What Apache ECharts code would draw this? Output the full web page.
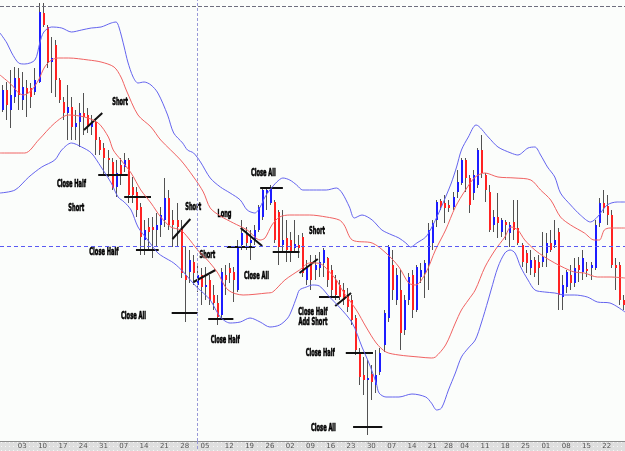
<!DOCTYPE html>
<html>
<head>
<meta charset="utf-8">
<script src="https://cdn.jsdelivr.net/npm/echarts@6.0.0/dist/echarts.min.js"></script>
<style>
html, body { margin: 0; padding: 0; background: #fbfdfb; }
#main { width: 625px; height: 451px; }
</style>
</head>
<body>
<div id="main"></div>
<script>
// monday of every week on the chart (first week is not labelled)
var weeks = ['2009-07-27', '2009-08-03', '2009-08-10', '2009-08-17', '2009-08-24', '2009-08-31',
	'2009-09-07', '2009-09-14', '2009-09-21', '2009-09-28', '2009-10-05', '2009-10-12', '2009-10-19',
	'2009-10-26', '2009-11-02', '2009-11-09', '2009-11-16', '2009-11-23', '2009-11-30', '2009-12-07',
	'2009-12-14', '2009-12-21', '2009-12-28', '2010-01-04', '2010-01-11', '2010-01-18', '2010-01-25',
	'2010-02-01', '2010-02-08', '2010-02-15', '2010-02-22'];
var closedDays = ['2009-12-25', '2010-01-01'];
var extraDays = ['2009-10-11'];

// daily bars: [open, close, low, high]
var candles = [
	[331, 351, 329, 356], [351, 336, 321, 359], [331, 346, 313, 371], [344, 363, 338, 374], [363, 346, 331, 373],
	[341, 354, 331, 369], [353, 348, 324, 361], [353, 344, 333, 358], [349, 361, 346, 373], [359, 429, 358, 438],
	[428, 416, 414, 438], [414, 379, 373, 416], [379, 383, 348, 404], [396, 361, 344, 401], [361, 341, 338, 363],
	[339, 328, 321, 344], [328, 334, 301, 356], [334, 314, 301, 344], [314, 318, 301, 331], [319, 328, 294, 338],
	[328, 324, 306, 348], [326, 314, 308, 333], [314, 319, 306, 326], [319, 301, 286, 323], [301, 291, 286, 304],
	[293, 283, 266, 298], [283, 281, 264, 291], [279, 253, 251, 283], [254, 268, 244, 281], [276, 266, 256, 283],
	[274, 281, 269, 288], [281, 246, 238, 283], [254, 246, 238, 264], [249, 231, 224, 254], [234, 204, 186, 238],
	[201, 211, 186, 221], [214, 209, 191, 223], [214, 211, 183, 224], [211, 216, 194, 228], [216, 226, 204, 234],
	[221, 243, 214, 263], [243, 216, 211, 251], [221, 216, 194, 231], [221, 214, 194, 238], [213, 168, 163, 221],
	[166, 161, 119, 194], [169, 181, 158, 191], [179, 168, 156, 186], [156, 166, 149, 176], [166, 154, 136, 173],
	[154, 156, 141, 174], [161, 141, 136, 166], [146, 138, 131, 156], [138, 124, 116, 146], [126, 169, 123, 173],
	[166, 161, 146, 176], [173, 168, 158, 178], [169, 161, 139, 174], [151, 194, 149, 201], [196, 208, 191, 221],
	[206, 198, 191, 214], [198, 201, 181, 211], [201, 211, 196, 216], [211, 234, 209, 236], [224, 251, 221, 254],
	[248, 251, 231, 254], [238, 254, 236, 256], [239, 201, 198, 241], [229, 194, 176, 231], [196, 201, 189, 231],
	[203, 191, 179, 221], [201, 188, 179, 209], [193, 197, 189, 221], [196, 193, 183, 206], [204, 168, 164, 208],
	[161, 173, 156, 181], [179, 161, 151, 186], [171, 176, 161, 186], [173, 179, 164, 189], [178, 191, 164, 193],
	[183, 161, 154, 184], [171, 151, 144, 176], [161, 146, 141, 166], [156, 144, 141, 161], [151, 141, 136, 158],
	[146, 134, 129, 153], [141, 121, 116, 146], [123, 91, 86, 126], [89, 64, 56, 93], [66, 61, 46, 84],
	[61, 63, 6, 81], [67, 59, 41, 76], [56, 66, 48, 91], [69, 88, 66, 93], [96, 128, 89, 131],
	[123, 194, 119, 196], [176, 151, 141, 191], [141, 166, 136, 173], [151, 108, 91, 171],
	[111, 141, 106, 146], [141, 164, 136, 168], [166, 131, 123, 171], [131, 174, 129, 176], [164, 171, 158, 178],
	[168, 178, 143, 181], [176, 211, 151, 218], [198, 218, 191, 221], [221, 239, 214, 241], [240, 234, 231, 242],
	[238, 233, 218, 246], [236, 233, 229, 241], [234, 244, 231, 249], [249, 259, 243, 271], [258, 281, 256, 283],
	[281, 263, 249, 283], [263, 236, 228, 266], [248, 266, 241, 271], [256, 291, 253, 293], [291, 268, 263, 306],
	[266, 251, 239, 268], [249, 211, 209, 256], [216, 224, 209, 231], [224, 218, 203, 248], [209, 221, 204, 223],
	[219, 216, 201, 221], [208, 216, 194, 219], [219, 211, 201, 241], [213, 198, 196, 241], [196, 179, 174, 198],
	[188, 178, 168, 191], [173, 181, 166, 191], [181, 168, 164, 184], [179, 173, 156, 186], [179, 184, 174, 209],
	[188, 198, 174, 208], [198, 191, 189, 211], [196, 201, 193, 221], [209, 146, 131, 213], [144, 156, 131, 166],
	[154, 169, 148, 171], [166, 158, 151, 176], [158, 173, 154, 183], [176, 171, 159, 184], [169, 183, 161, 191],
	[172, 170, 164, 179], [173, 176, 161, 179], [173, 216, 171, 221], [218, 238, 214, 243], [238, 233, 228, 251],
	[235, 226, 216, 246], [226, 176, 173, 231], [176, 173, 151, 183], [176, 141, 136, 179], [141, 136, 131, 146]
];

// bands: [bar position, level]
var blueUpper = [[-0.5, 408], [1.2, 398], [2.4, 388], [4.1, 378], [5.6, 377], [8.1, 381], [9.3, 398], [10.3, 409],
	[12.2, 414], [14.7, 413], [17.1, 409], [19.6, 411], [22.0, 413], [24.4, 414], [26.9, 418], [28.1, 419],
	[28.8, 414], [30.1, 394], [31.0, 379], [32.3, 364], [33.5, 358], [35.0, 359], [36.7, 356], [38.4, 348],
	[40.8, 326], [42.3, 308], [44.5, 298], [45.7, 291], [47.2, 288], [48.9, 279], [51.3, 263], [53.8, 254],
	[56.2, 248], [58.7, 241], [60.4, 231], [62.3, 228], [63.6, 234], [64.8, 244], [66.0, 251], [67.7, 259],
	[69.2, 263], [70.9, 261], [72.6, 256], [74.1, 251], [77.5, 251], [79.9, 251], [82.4, 253], [83.8, 248],
	[85.6, 234], [86.8, 223], [88.7, 226], [91.2, 221], [93.6, 211], [96.1, 206], [97.8, 203], [99.5, 198],
	[100.7, 194], [102.2, 198], [104.4, 204], [105.8, 213], [107.6, 228], [109.3, 244], [110.7, 258], [112.0, 274],
	[113.2, 291], [114.9, 304], [116.8, 316], [119.8, 304], [122.2, 294], [125.4, 288], [127.1, 286], [129.6, 293],
	[131.3, 294], [132.7, 286], [134.4, 274], [136.2, 264], [137.6, 248], [140.1, 236], [142.5, 226], [145.0, 219],
	[146.7, 224], [149.1, 236], [151.6, 239], [153.5, 239]];
var redUpper = [[-0.5, 366], [2.4, 356], [4.1, 348], [5.4, 346], [7.3, 351], [9.0, 361], [10.5, 374], [12.2, 381],
	[13.9, 383], [16.4, 383], [21.3, 381], [24.4, 379], [27.6, 374], [29.3, 364], [30.6, 351], [33.5, 326],
	[36.7, 314], [39.1, 301], [44.0, 281], [47.2, 264], [49.6, 249], [51.3, 233], [53.8, 225], [57.0, 218],
	[60.4, 211], [63.6, 201], [64.8, 203], [66.5, 216], [68.4, 224], [70.9, 226], [75.8, 226], [79.9, 224],
	[83.1, 221], [84.3, 216], [86.3, 201], [91.2, 198], [94.6, 188], [97.8, 174], [100.2, 158], [101.9, 156],
	[104.4, 168], [106.8, 191], [109.3, 211], [111.7, 234], [114.2, 251], [116.6, 264], [119.0, 268], [122.2, 264],
	[126.4, 263], [130.3, 261], [132.7, 251], [135.2, 241], [137.6, 224], [140.1, 216], [143.5, 208], [145.9, 201],
	[147.2, 201], [148.4, 211], [149.8, 213], [153.5, 213]];
var redLower = [[-0.5, 288], [5.6, 288], [9.0, 301], [13.0, 318], [16.4, 326], [20.3, 324], [23.7, 318], [26.2, 304],
	[27.4, 291], [29.3, 281], [31.8, 268], [34.2, 251], [36.7, 238], [39.1, 224], [41.6, 214], [44.0, 211],
	[45.7, 204], [48.2, 191], [50.6, 181], [53.0, 169], [55.7, 151], [59.4, 146], [65.3, 148], [66.7, 149],
	[69.7, 161], [73.3, 171], [75.8, 178], [77.5, 178], [79.0, 176], [80.7, 169], [82.4, 161], [83.8, 151],
	[87.3, 131], [89.7, 114], [92.2, 98], [94.6, 89], [97.8, 86], [102.7, 84], [105.8, 83], [106.8, 84],
	[109.3, 96], [111.7, 118], [113.2, 131], [114.9, 141], [116.6, 151], [119.0, 174], [121.5, 191], [123.9, 204],
	[125.4, 214], [127.1, 211], [128.8, 201], [131.3, 191], [133.7, 184], [136.2, 178], [138.6, 173], [141.0, 169],
	[143.5, 168], [146.7, 164], [149.8, 164], [153.5, 163]];
var blueLower = [[-0.5, 248], [3.2, 251], [6.6, 264], [9.8, 274], [13.0, 281], [14.7, 291], [17.1, 298], [19.6, 294],
	[22.0, 288], [24.4, 274], [26.9, 258], [28.6, 244], [30.1, 239], [31.8, 231], [33.5, 214], [35.9, 201],
	[38.4, 188], [39.8, 184], [42.3, 178], [44.7, 169], [46.4, 161], [48.2, 153], [49.6, 148], [51.3, 141],
	[53.8, 124], [56.2, 118], [58.7, 119], [61.1, 123], [63.6, 119], [66.0, 114], [68.4, 116], [70.4, 123],
	[71.4, 131], [72.6, 144], [73.3, 151], [75.0, 154], [76.5, 156], [78.2, 155], [80.7, 144], [83.1, 134],
	[86.3, 118], [88.7, 94], [90.4, 78], [92.2, 58], [92.9, 48], [94.6, 44], [97.8, 44], [101.0, 47],
	[104.4, 44], [105.8, 38], [107.1, 31], [108.3, 33], [110.0, 51], [111.7, 68], [113.2, 84], [114.9, 93],
	[116.6, 101], [118.1, 118], [119.8, 141], [120.5, 151], [122.2, 174], [123.9, 188], [125.2, 191], [126.4, 188],
	[127.8, 174], [129.6, 161], [131.3, 151], [133.7, 149], [136.2, 148], [138.6, 146], [141.0, 146], [144.2, 144],
	[146.7, 139], [149.8, 138], [153.5, 129]];

// trade notes: strokes [x1, y1, x2, y2] and labels
var noteLines = [[20.2, 311, 24.7, 328], [23.7, 266, 31.0, 266], [30.1, 244, 36.7, 244], [33.0, 191, 38.6, 191],
	[42.0, 202, 46.4, 222], [47.2, 159, 52.6, 171], [41.8, 128, 48.2, 128], [50.8, 122, 57.0, 122],
	[58.8, 213, 64.1, 195], [55.4, 194, 62.3, 194], [63.6, 253, 69.2, 253], [73.3, 168, 77.8, 182],
	[66.7, 189, 73.3, 189], [78.1, 144, 83.1, 144], [82.1, 135, 86.0, 148], [84.7, 88, 91.4, 88],
	[86.5, 14, 93.7, 14]];
var noteText = ['Short', 'Close Half', 'Short', 'Close Half', 'Short', 'Short', 'Close All', 'Close Half',
	'Close All', 'Long', 'Close All', 'Short', 'Close Half', 'Add Short', 'Close Half', 'Close All'];
var noteAt = [[29.1, 339], [17.1, 257], [18.3, 233], [25.1, 189], [47.1, 234], [50.6, 186], [32.4, 125], [55.0, 101],
	[62.7, 165], [54.8, 227], [64.4, 268], [77.6, 210], [76.6, 129], [76.6, 119], [78.4, 88], [79.2, 13]];

// crosshair: level and bar, plus the dashed line at the top
var crossLevel = 195;
var crossBar = 48;
var topLevel = 435;

var categories = extraDays.slice();
weeks.forEach(function (w) {
	var t = Date.parse(w + 'T00:00:00Z');
	for (var d = 0; d < 5; d++) {
		var day = new Date(t + d * 864e5).toISOString().slice(0, 10);
		if (closedDays.indexOf(day) < 0) { categories.push(day); }
	}
});
categories.sort();
var candleRows = candles.map(function (c, i) { return [i, c[0], c[1], c[2], c[3]]; });

// label the mondays, except the first week
function isMonday(index, value) {
	return index > 0 && new Date(value + 'T00:00:00Z').getUTCDay() === 1;
}

// dotted strip under the axis
var dots = document.createElement('canvas');
dots.width = 4; dots.height = 4;
var g = dots.getContext('2d');
g.fillStyle = '#dedede'; g.fillRect(0, 0, 4, 4);
g.fillStyle = '#f7f7f7'; g.fillRect(1, 1, 1, 1);
var strip = {
	type: 'rect', left: 0, bottom: 0, z: -10,
	shape: { width: 625, height: 10 },
	style: { fill: { image: dots, repeat: 'repeat' } }
};

var myChart = echarts.init(document.getElementById('main'));
var option = {
	animation: false,
	backgroundColor: '#fbfdfb',
	graphic: [strip],
	grid: { left: -2, right: -3, top: 0, bottom: 10 },
	xAxis: [{
		type: 'category',
		data: categories,
		boundaryGap: true,
		axisLine: { lineStyle: { color: '#8c8c8c' } },
		axisTick: { interval: isMonday, length: 2, lineStyle: { color: '#e03030' } },
		axisLabel: {
			interval: isMonday, margin: 2, fontSize: 7, color: '#555',
			fontFamily: 'DejaVu Sans',
			formatter: function (v) { return v.slice(8); }
		},
		splitLine: { show: false }
	}, {
		type: 'value', min: -0.5, max: categories.length - 0.5, show: false
	}],
	yAxis: { type: 'value', min: 0, max: 441, show: false },
	series: [{
		name: 'blue upper', type: 'line', xAxisIndex: 1, data: blueUpper,
		showSymbol: false, smooth: 0.3, lineStyle: { color: '#6464ee', width: 1 },
		markLine: {
			silent: true, symbol: 'none', label: { show: false },
			data: [
				{ yAxis: topLevel, lineStyle: { color: '#6e6e7e', type: [4, 2], width: 1 } },
				{ yAxis: crossLevel, lineStyle: { color: '#5a5af2', type: [4, 3], width: 1 } },
				{ xAxis: crossBar, lineStyle: { color: '#9898d8', type: [3, 2], width: 1 } }
			]
		}
	}, {
		name: 'red upper', type: 'line', xAxisIndex: 1, data: redUpper,
		showSymbol: false, smooth: 0.3, lineStyle: { color: '#f06262', width: 1 }
	}, {
		name: 'red lower', type: 'line', xAxisIndex: 1, data: redLower,
		showSymbol: false, smooth: 0.3, lineStyle: { color: '#f06262', width: 1 }
	}, {
		name: 'blue lower', type: 'line', xAxisIndex: 1, data: blueLower,
		showSymbol: false, smooth: 0.3, lineStyle: { color: '#6464ee', width: 1 }
	}, {
		name: 'bars', type: 'custom', xAxisIndex: 0,
		encode: { x: 0, y: [1, 2, 3, 4] },
		data: candleRows,
		renderItem: function (params, api) {
			var i = api.value(0);
			var hi = api.coord([i, api.value(4)]);
			var lo = api.coord([i, api.value(3)]);
			var po = api.coord([i, api.value(1)]);
			var pc = api.coord([i, api.value(2)]);
			var x = Math.round(hi[0]);
			var y1 = Math.min(po[1], pc[1]), y2 = Math.max(po[1], pc[1]);
			if (y2 - y1 < 1.5) { y2 = y1 + 1.5; }
			var up = api.value(2) >= api.value(1);
			return {
				type: 'group',
				children: [{
					type: 'line',
					shape: { x1: x + 0.5, y1: hi[1], x2: x + 0.5, y2: lo[1] },
					style: { stroke: '#525252', lineWidth: 1 }
				}, {
					type: 'rect',
					shape: { x: x, y: y1, width: 2, height: y2 - y1 },
					style: { fill: up ? '#1c1cff' : '#ff2222' }
				}]
			};
		}
	}, {
		name: 'note lines', type: 'custom', xAxisIndex: 1,
		data: noteLines,
		renderItem: function (params, api) {
			var a = api.coord([api.value(0), api.value(1)]);
			var b = api.coord([api.value(2), api.value(3)]);
			return {
				type: 'line',
				shape: { x1: a[0], y1: a[1], x2: b[0], y2: b[1] },
				style: { stroke: '#111', lineWidth: 2 }
			};
		}
	}, {
		name: 'note text', type: 'custom', xAxisIndex: 1,
		data: noteAt,
		renderItem: function (params, api) {
			var p = api.coord([api.value(0), api.value(1)]);
			return {
				type: 'text', x: p[0], y: p[1], scaleX: 0.57,
				style: {
					text: noteText[params.dataIndex],
					font: 'bold 10px "DejaVu Sans Condensed", "DejaVu Sans", sans-serif',
					fill: '#000', stroke: '#000', lineWidth: 0.6,
					align: 'center', verticalAlign: 'middle'
				}
			};
		}
	}]
};
myChart.setOption(option);

// carry the vertical crosshair down through the date strip
var cx = Math.round(myChart.convertToPixel({ xAxisIndex: 1 }, crossBar)) + 0.5;
myChart.setOption({
	graphic: [strip, {
		type: 'line', z: 10,
		shape: { x1: cx, y1: 441, x2: cx, y2: 451 },
		style: { stroke: '#9898d8', lineWidth: 1, lineDash: [3, 2] }
	}]
});
</script>
